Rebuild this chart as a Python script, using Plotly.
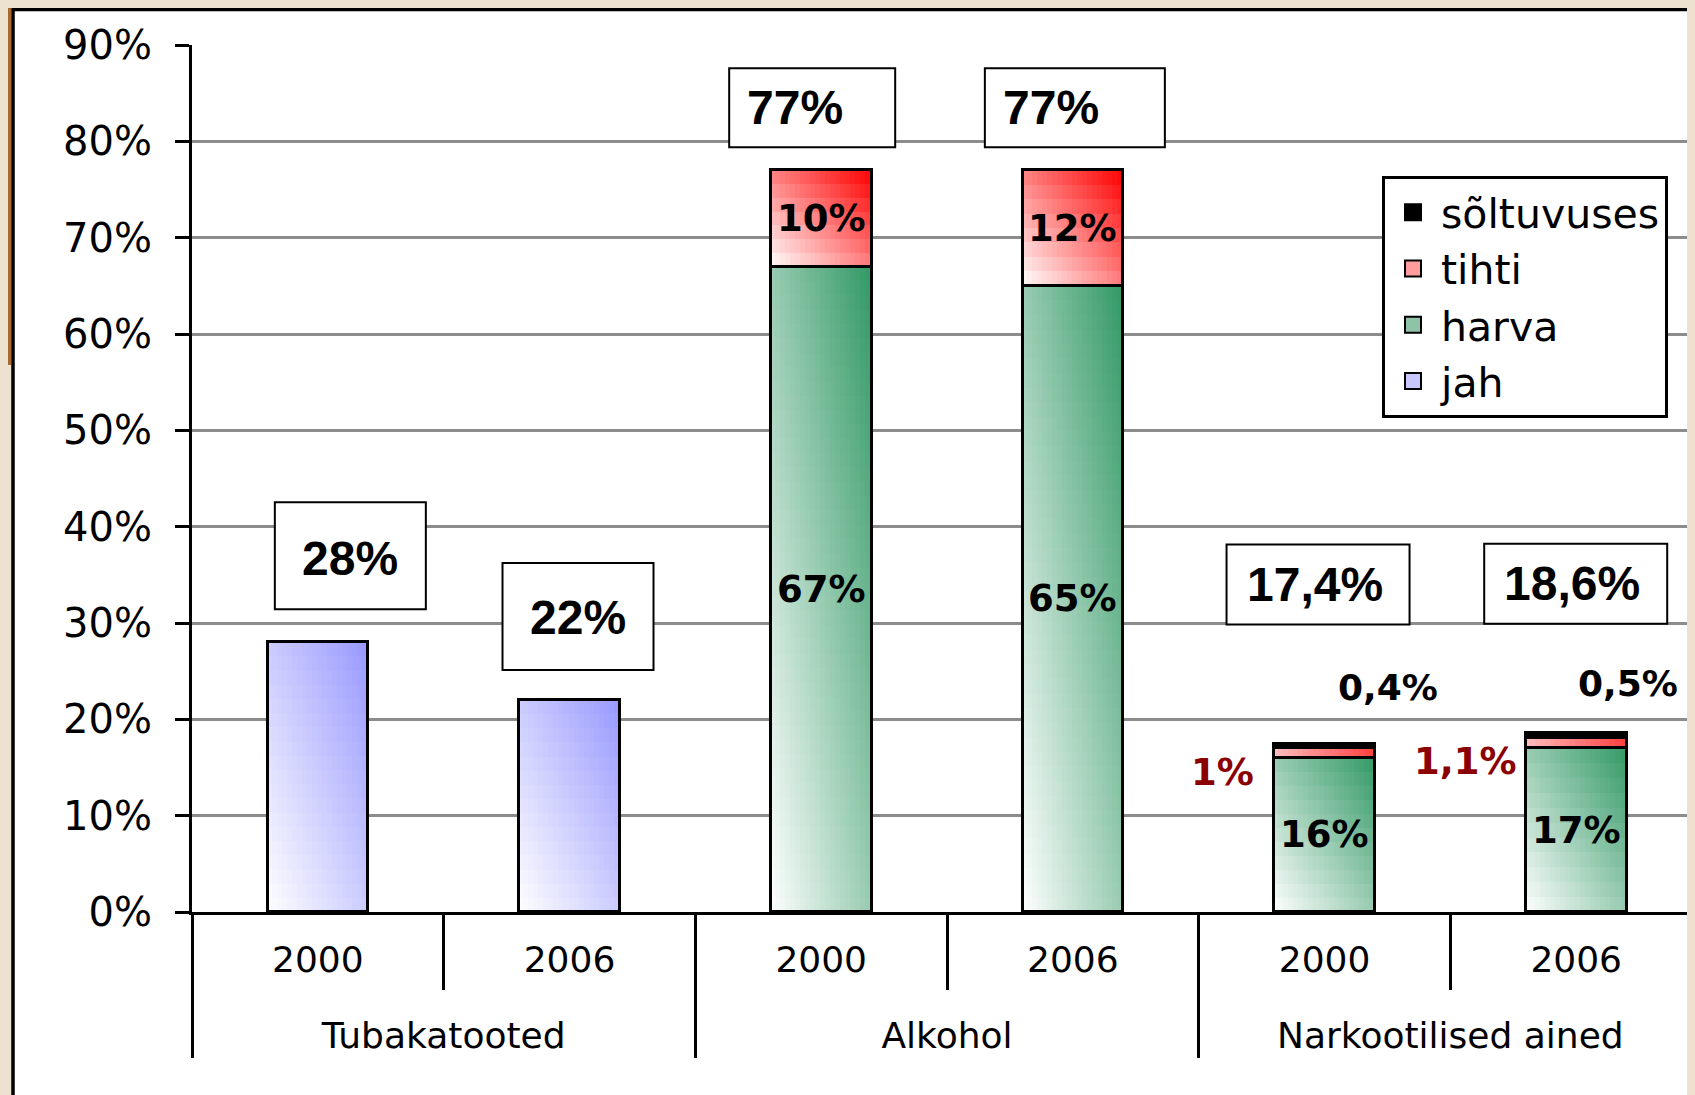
import plotly.graph_objects as go

# categories (two-level axis)
groups = ["Tubakatooted", "Tubakatooted", "Alkohol", "Alkohol",
          "Narkootilised ained", "Narkootilised ained"]
years = ["2000", "2006", "2000", "2006", "2000", "2006"]

# series values, %
jah = [28, 22, 0, 0, 0, 0]
harva = [0, 0, 67, 65, 16, 17]
tihti = [0, 0, 10, 12, 1, 1.1]
soltuvuses = [0, 0, 0, 0, 0.4, 0.5]

y_ticks = [0, 10, 20, 30, 40, 50, 60, 70, 80, 90]

BAR_W = 0.4
N_COLS = 20
TXT = "DejaVu Sans"
BOXFONT = "Liberation Sans"

# group names sit one line lower than the years
group_labels = ["<br>" + g for g in groups]


def pct(v):
    if float(v).is_integer():
        return f"{int(v)}%"
    return f"{v:.1f}".replace(".", ",") + "%"


def mix(rgb, t):
    r, g, b = (round(255 + (c - 255) * t) for c in rgb)
    return f"rgb({r},{g},{b})"


def add_gradient(fig, base, values, rgb):
    """Diagonal white->colour fill, built from thin bar cells."""
    for j in range(N_COLS):
        u = (j + 0.5) / N_COLS
        xg, xy, ys, bs, cs = [], [], [], [], []
        for i, v in enumerate(values):
            if not v:
                continue
            rows = max(1, round(v / 1.5))
            for r in range(rows):
                t = (u + (r + 0.5) / rows) / 2
                xg.append(group_labels[i])
                xy.append(years[i])
                ys.append(v / rows)
                bs.append(base[i] + r * v / rows)
                cs.append(mix(rgb, t))
        fig.add_trace(go.Bar(
            x=[xg, xy], y=ys, base=bs,
            width=BAR_W / N_COLS,
            offset=-BAR_W / 2 + j * BAR_W / N_COLS,
            marker=dict(color=cs, line=dict(color=cs, width=1)),
            showlegend=False, hoverinfo="skip",
        ))


def add_outline(fig, base, values, fill="rgba(0,0,0,0)"):
    fig.add_trace(go.Bar(
        x=[group_labels, years],
        y=[v if v else None for v in values],
        base=base,
        width=BAR_W, offset=-BAR_W / 2,
        marker=dict(color=fill, line=dict(color="black", width=3)),
        showlegend=False, hoverinfo="skip",
    ))


base_jah = [0] * 6
base_harva = [a for a in jah]
base_tihti = [a + b for a, b in zip(jah, harva)]
base_solt = [a + b + c for a, b, c in zip(jah, harva, tihti)]
totals = [a + b + c + d for a, b, c, d in zip(jah, harva, tihti, soltuvuses)]

fig = go.Figure()

add_gradient(fig, base_jah, jah, (153, 153, 255))
add_gradient(fig, base_harva, harva, (51, 153, 102))
add_gradient(fig, base_tihti, tihti, (255, 0, 0))
add_outline(fig, base_jah, jah)
add_outline(fig, base_harva, harva)
add_outline(fig, base_tihti, tihti)
add_outline(fig, base_solt, soltuvuses, fill="black")

# legend entries
for name, col in [("sõltuvuses", "black"), ("tihti", "#ff9c9c"),
                  ("harva", "#8fc3a8"), ("jah", "#c8c8ff")]:
    fig.add_trace(go.Scatter(
        x=[[group_labels[0]], [years[0]]], y=[None], mode="markers", name=name,
        legendgroup=name,
        marker=dict(symbol="square", size=16, color=col,
                    line=dict(color="black", width=2)),
    ))

annotations = []
shapes = []

# boxed totals: box (x0, x1, y0, y1) and text shift, pixels from bar top
box_px = [(-43, 108, 33, 140), (-67, 84, 30, 137), (-92, 74, 23, 102),
          (-88, 92, 23, 102), (-98, 85, 120, 200), (-92, 91, 109, 189)]
box_txt = [(32, 84), (8, 83), (-26, 63), (-22, 63), (-10, 160), (-4, 149)]
for i, tot in enumerate(totals):
    x0, x1, y0, y1 = box_px[i]
    shapes.append(dict(
        type="rect", xref="x", yref="y", xsizemode="pixel", ysizemode="pixel",
        xanchor=i, yanchor=tot, x0=x0, x1=x1, y0=y0, y1=y1,
        fillcolor="white", line=dict(color="black", width=2), layer="above",
    ))
    dx, dy = box_txt[i]
    annotations.append(dict(
        x=i, y=tot, xref="x", yref="y", text=f"<b>{pct(tot)}</b>",
        showarrow=False, xshift=dx, yshift=dy,
        font=dict(family=BOXFONT, size=48, color="black"),
    ))

# labels inside the bars
for i in range(6):
    if harva[i]:
        annotations.append(dict(
            x=i, y=base_harva[i] + harva[i] / 2, text=f"<b>{pct(harva[i])}</b>",
            showarrow=False, font=dict(family=TXT, size=37, color="black"),
        ))
    if tihti[i] and groups[i] == "Alkohol":
        annotations.append(dict(
            x=i, y=base_tihti[i] + tihti[i] / 2, text=f"<b>{pct(tihti[i])}</b>",
            showarrow=False, font=dict(family=TXT, size=37, color="black"),
        ))

# small segments labelled beside the narcotics bars
tihti_shift = {4: (-102, -19), 5: (-111, -19)}
solt_shift = {4: (63, 57), 5: (52, 49)}
for i, (dx, dy) in tihti_shift.items():
    annotations.append(dict(
        x=i, y=base_tihti[i] + tihti[i] / 2, text=f"<b>{pct(tihti[i])}</b>",
        showarrow=False, xshift=dx, yshift=dy,
        font=dict(family=TXT, size=37, color="#8b0000"),
    ))
for i, (dx, dy) in solt_shift.items():
    annotations.append(dict(
        x=i, y=totals[i], text=f"<b>{pct(soltuvuses[i])}</b>",
        showarrow=False, xshift=dx, yshift=dy,
        font=dict(family=TXT, size=36, color="black"),
    ))

# white slide panel over the photo background
shapes.append(dict(
    type="rect", xref="paper", yref="paper", xsizemode="pixel",
    ysizemode="pixel", xanchor=0, yanchor=1,
    x0=-179, x1=1700, y0=-1300, y1=35.5,
    fillcolor="white", line=dict(color="black", width=3.5), layer="below",
))
shapes.append(dict(
    type="rect", xref="paper", yref="paper", xsizemode="pixel",
    ysizemode="pixel", xanchor=0, yanchor=1,
    x0=-195, x1=-181, y0=-320, y1=50,
    fillcolor="#a8692f", line=dict(width=0), layer="below",
))

# the page body adds an 8px margin, so the figure is 8px smaller / shifted
fig.update_layout(
    width=1687, height=1087,
    margin=dict(l=184, r=0, t=37, b=183, autoexpand=False),
    barmode="overlay", bargap=0, bargroupgap=0,
    paper_bgcolor="#ede2cf", plot_bgcolor="rgba(0,0,0,0)",
    font=dict(family=TXT, color="black"),
    hovermode=False,
    showlegend=True,
    legend=dict(
        x=(1382 - 192) / 1503, y=(912 - 176) / 867, xanchor="left", yanchor="top",
        bgcolor="white", bordercolor="black", borderwidth=3,
        font=dict(family=TXT, size=41, color="black"),
        itemwidth=46, tracegroupgap=0, traceorder="grouped",
    ),
    shapes=shapes,
    annotations=annotations,
)
fig.update_xaxes(
    type="multicategory", range=[-0.5, 5.472], automargin=False,
    showline=True, linecolor="black", linewidth=3,
    ticks="outside", tickson="boundaries", ticklen=75, tickwidth=3, tickcolor="black",
    showdividers=True, dividercolor="black", dividerwidth=3,
    showgrid=False, ticklabelstandoff=14,
    tickfont=dict(family=TXT, size=36, color="black"),
)
fig.update_yaxes(
    range=[0, 90], tickvals=y_ticks, ticktext=[f"{v}%" for v in y_ticks],
    automargin=False,
    showline=True, linecolor="black", linewidth=3,
    ticks="outside", ticklen=14, tickwidth=3, tickcolor="black",
    showgrid=True, gridcolor="#8c8c8c", gridwidth=2.5, zeroline=False,
    ticklabelstandoff=15,
    tickfont=dict(family=TXT, size=40, color="black"),
)

fig.write_html("out.html", post_script="document.body.style.background='#ede2cf';")
